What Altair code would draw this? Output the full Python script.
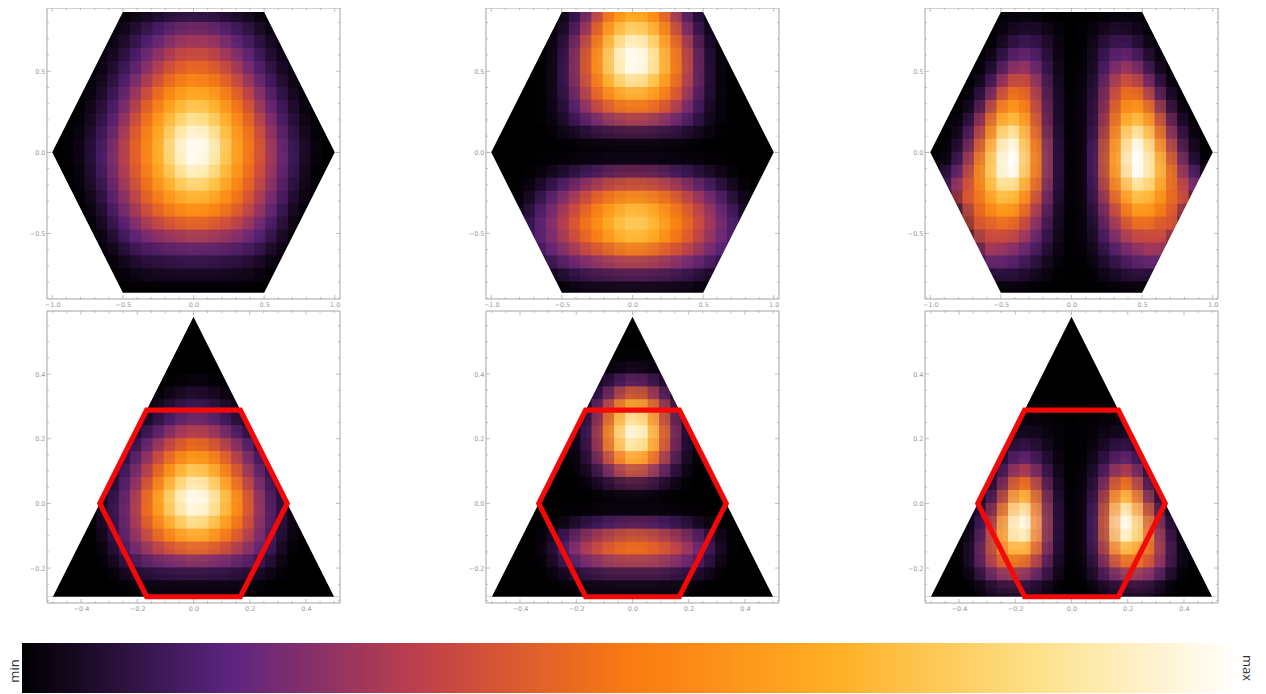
import altair as alt
import pandas as pd

# colour bar stops
stop_pos = [0, 17, 33, 50, 67, 84, 100]
stop_col = ["#000000", "#5b2480", "#c0404a", "#fb7a10", "#ffb024", "#fde28c", "#ffffff"]

hex_ys = [round(k * 0.08, 2) for k in range(11, -12, -1)]
tri_ys = [round(k * 0.04, 2) for k in range(14, -8, -1)]

# half-rows, x = 0 outwards; missing entries are 0 (black)
hex_a = [
[3,3,3,2,1,1],
[13,12,11,9,7,5,2,1],
[24,23,21,17,13,9,5,2,1],
[31,30,27,22,18,13,8,4,1],
[39,38,34,29,23,17,11,6,3,1],
[48,46,42,36,28,21,14,8,4,1],
[58,55,51,43,35,26,18,11,6,2],
[69,66,60,51,42,32,22,14,8,3,1],
[79,75,68,58,48,37,26,17,10,5,1],
[90,85,76,65,53,42,31,20,12,6,2],
[98,94,84,69,57,46,34,23,14,8,3,1],
[100,97,87,71,58,47,36,25,16,9,4,1],
[99,94,84,69,57,46,35,25,16,9,3,1],
[90,86,76,65,54,43,33,23,14,8,2],
[78,75,68,59,49,40,30,21,12,6,2],
[66,64,59,52,44,35,26,18,10,4,1],
[53,52,48,43,37,30,22,15,7,2],
[40,39,36,33,29,23,17,11,5,1],
[26,25,24,22,20,17,13,7,3],
[15,14,14,13,12,10,7,3,1],
[8,8,7,7,6,5,3,1],
[3,3,3,3,2,2,1],
[0],
]
hex_b = [
[58,56,50,36,22,11,4,1],
[70,66,56,42,26,13,5,1],
[84,79,68,52,34,20,8,2],
[97,92,78,58,42,26,11,3,1],
[100,97,83,62,46,28,13,4,1],
[99,93,80,60,45,28,13,4,1],
[82,77,68,54,41,26,13,4,1],
[62,60,55,46,35,22,11,4,1],
[46,44,41,34,26,17,9,3,1],
[25,24,22,19,15,11,6,2,1],
[7,7,6,6,5,3,2,1],
[0],
[4,4,4,3,3,2,2,1,1],
[25,24,23,20,16,13,9,6,3,1],
[43,42,40,36,31,25,19,14,8,4,1],
[62,60,56,49,42,35,27,21,14,7,2],
[74,72,66,57,49,41,33,25,18,11,4,1],
[78,75,68,59,51,43,34,26,19,13,6,2],
[68,66,60,52,45,38,30,23,18,12,6,2],
[45,44,41,37,33,28,23,18,14,8,3],
[25,25,24,22,19,17,14,10,6,2],
[10,10,9,9,8,6,4,2,1],
[1,1,1,1,1,1],
]
hex_c = [
[0],
[0,0,1,2,3,3,2,1],
[0,1,3,6,7,6,3,1],
[0,1,5,10,13,12,7,2],
[0,1,6,14,20,20,13,5,1],
[0,2,7,18,28,30,22,10,3],
[0,2,9,24,37,42,34,18,6,1],
[0,3,10,27,43,53,47,30,13,3],
[0,3,11,30,50,63,62,45,22,6,1],
[0,3,12,34,58,74,75,58,33,13,3],
[0,3,14,40,64,90,93,68,42,20,6,1],
[0,3,17,45,68,97,100,80,52,27,10,2],
[0,3,17,46,70,100,100,84,60,36,16,4],
[0,3,17,44,66,95,100,82,62,42,22,15],
[0,3,15,38,58,76,84,74,58,42,33,18],
[0,3,13,30,48,64,70,64,52,42,35,1],
[0,2,10,24,38,52,58,54,46,38,12],
[0,2,8,20,30,40,44,42,37,40,3],
[0,2,6,15,23,30,33,33,36,12],
[0,1,4,10,15,20,22,27,22,3],
[0,1,2,6,9,12,15,15,14],
[0,0,1,2,4,5,5,4,2],
[0],
]
tri_d = [
[0],[0],[0],[0],[0],
[3,2,1],
[8,7,5,2,1],
[13,12,9,6,3,1],
[24,22,18,13,8,4,1],
[36,34,29,22,15,9,4,1],
[50,47,41,33,24,15,8,3,1],
[66,62,54,43,31,21,12,5,2],
[82,77,65,52,38,26,16,8,3,1],
[95,90,77,61,46,31,19,10,4,1],
[100,97,85,69,53,36,22,12,6,1],
[96,90,79,64,50,35,22,13,6,1],
[80,76,66,55,44,32,21,12,6,1],
[60,58,52,45,36,27,19,11,4,1],
[40,38,35,31,26,21,15,8,2],
[19,18,17,16,14,12,8,4,1],
[6,6,6,6,5,4,3,1],
[1,1,1,1,1,1],
]
tri_e = [
[0],[0],[0],
[1,1],
[5,4,3,1],
[22,19,12,6,2],
[48,42,28,14,5,1],
[74,66,44,24,9,2],
[96,84,58,32,13,3,1],
[100,90,64,36,14,4,1],
[88,78,56,31,12,3,1],
[60,53,38,22,9,2],
[30,27,19,11,4,1],
[8,7,5,3,1],
[0],
[3,3,3,2,2,1,1],
[22,21,19,16,13,9,5,2],
[44,43,40,35,30,24,16,8,3],
[47,46,43,39,33,26,18,9,3],
[24,24,23,21,18,15,10,5,1],
[8,8,8,7,6,5,3,1],
[1,1,1,1,1],
]
tri_f = [
[0],[0],[0],[0],[0],[0],[0],
[0,0,1,1,1,1],
[0,1,1,2,2,2,1],
[0,1,2,4,5,5,2,1],
[0,1,3,7,11,11,6,1],
[0,1,5,12,20,20,11,3],
[0,2,8,20,34,35,19,6,1],
[0,2,11,30,52,54,30,11,3],
[0,3,14,40,72,78,45,20,6,1],
[0,3,16,45,88,98,64,32,11,2],
[0,3,17,48,96,100,78,40,17,4],
[0,3,16,44,84,94,72,44,21,6],
[0,3,14,35,60,66,58,42,23,8,1],
[0,2,10,24,38,44,42,34,20,6,1],
[0,1,6,13,19,22,22,18,9,2],
[0,0,1,3,4,5,5,4,1],
]

# region outlines
hex_top_x = [-1.04, -1.0, -0.5, 0.5, 1.0, 1.04]
hex_top_y = [0, 0, 0.866, 0.866, 0, 0]
hex_bot_y = [0, 0, -0.866, -0.866, 0, 0]
tri_top_x = [-0.53, -0.5, 0, 0.5, 0.53]
tri_top_y = [-0.2887, -0.2887, 0.5774, -0.2887, -0.2887]
tri_bot_x = [-0.53, 0.53]
tri_bot_y = [-0.2887, -0.2887]
red_x = [-0.25, -0.1667, 0.1667, 0.3333, 0.1667, -0.1667, -0.3333, -0.25]
red_y = [0.1443, 0.2887, 0.2887, 0, -0.2887, -0.2887, 0, 0.1443]

# axes
hex_major = [-1.0, -0.5, 0.0, 0.5, 1.0]
hex_minor = [-0.9,-0.8,-0.7,-0.6,-0.4,-0.3,-0.2,-0.1,0.1,0.2,0.3,0.4,0.6,0.7,0.8,0.9]
hey_major = [-0.5, 0.0, 0.5]
hey_minor = [-0.9,-0.8,-0.7,-0.6,-0.4,-0.3,-0.2,-0.1,0.1,0.2,0.3,0.4,0.6,0.7,0.8]
tri_major = [-0.4, -0.2, 0.0, 0.2, 0.4]
tri_minor = [-0.5,-0.45,-0.35,-0.3,-0.25,-0.15,-0.1,-0.05,0.05,0.1,0.15,0.25,0.3,0.35,0.45,0.5]
try_major = [-0.2, 0.0, 0.2, 0.4]
try_minor = [-0.3,-0.25,-0.15,-0.1,-0.05,0.05,0.1,0.15,0.25,0.3,0.35,0.45,0.5,0.55]

W = 293
GREY = "#a3a3a3"
FONT = "DejaVu Sans"
color_scale = alt.Scale(domain=stop_pos, range=stop_col, interpolate="rgb", clamp=True)

# softened copies of every cell: twice as large, see-through, nudged against paint order
soft_opacity = [0.5, 0.4]
soft_dx = [-0.25 + 0.156, 0.25 + 0.109]
soft_dy = [-0.25 - 0.28, 0.25 - 0.205]


def cells(rows, ys, step):
    out = []
    dy = abs(ys[0] - ys[1]) / 2
    for y, row in zip(ys, rows):
        row = list(row) + [0] * (13 - len(row))
        for i in range(-12, 13):
            x = i * step
            rec = {"x": x - step / 2, "x2": x + step / 2, "y": y - dy, "y2": y + dy, "v": row[abs(i)]}
            for n in range(len(soft_opacity)):
                cx, cy = x + soft_dx[n] * step, y + soft_dy[n] * 2 * dy
                rec[f"sx{n}"] = cx - step
                rec[f"ex{n}"] = cx + step
                rec[f"sy{n}"] = cy - 2 * dy
                rec[f"ey{n}"] = cy + 2 * dy
            out.append(rec)
    return pd.DataFrame(out)


def panel(rows, ys, step, xdom, ydom, h, xmaj, xmin, ymaj, ymin, masks, red):
    xs = alt.Scale(domain=xdom, nice=False, zero=False)
    ys_ = alt.Scale(domain=ydom, nice=False, zero=False)
    axx = alt.Axis(values=xmaj, format=".1f", title=None, ticks=False, grid=False, domain=False,
                   labelFontSize=6.5, labelColor="#9a9a9a", labelFont=FONT, labelPadding=2)
    axy = alt.Axis(values=ymaj, format=".1f", title=None, ticks=False, grid=False, domain=False,
                   labelFontSize=6.5, labelColor="#9a9a9a", labelFont=FONT, labelPadding=2)
    X = lambda f: alt.X(f, scale=xs, axis=axx)
    Y = lambda f: alt.Y(f, scale=ys_, axis=axy)
    data = cells(rows, ys, step)
    layers = [
        alt.Chart(data).mark_rect(clip=True, strokeWidth=1).encode(
            x=X("x:Q"), x2="x2:Q", y=Y("y:Q"), y2="y2:Q",
            fill=alt.Fill("v:Q", scale=color_scale, legend=None),
            stroke=alt.Stroke("v:Q", scale=color_scale, legend=None),
        )
    ]
    for n, a in enumerate(soft_opacity):
        layers.append(alt.Chart(data).mark_rect(clip=True, opacity=a).encode(
            x=X(f"sx{n}:Q"), x2=f"ex{n}:Q", y=Y(f"sy{n}:Q"), y2=f"ey{n}:Q",
            fill=alt.Fill("v:Q", scale=color_scale, legend=None),
        ))
    for mx, my, edge in masks:
        d = pd.DataFrame({"x": mx, "y": my, "e": [edge] * len(mx)})
        layers.append(alt.Chart(d).mark_area(color="white", clip=True, interpolate="linear").encode(
            x=X("x:Q"), y=Y("y:Q"), y2="e:Q",
        ))
    for vals, ln in ((xmaj, 4), (xmin, 2)):
        d = pd.DataFrame({"t": vals})
        for a, b in ((0, ln), (h, h - ln)):
            layers.append(alt.Chart(d).mark_rule(color=GREY, strokeWidth=0.7).encode(
                x=X("t:Q"), y=alt.value(a), y2=alt.value(b)))
    for vals, ln in ((ymaj, 4), (ymin, 2)):
        d = pd.DataFrame({"t": vals})
        for a, b in ((0, ln), (W, W - ln)):
            layers.append(alt.Chart(d).mark_rule(color=GREY, strokeWidth=0.7).encode(
                y=Y("t:Q"), x=alt.value(a), x2=alt.value(b)))
    layers.append(alt.Chart(pd.DataFrame({"a": [0]})).mark_rect(
        fillOpacity=0, stroke=GREY, strokeWidth=1).encode(
        x=alt.value(0), x2=alt.value(W), y=alt.value(0), y2=alt.value(h)))
    if red:
        d = pd.DataFrame({"x": red_x, "y": red_y, "o": list(range(len(red_x)))})
        layers.append(alt.Chart(d).mark_line(color="#f40808", strokeWidth=5.2, strokeJoin="miter",
                                             strokeCap="butt", strokeMiterLimit=10).encode(
            x=X("x:Q"), y=Y("y:Q"), order="o:Q",
        ))
    return alt.layer(*layers).properties(width=W, height=h)


HX, HY = [-1.037, 1.037], [-0.904, 0.890]
TX, TY = [-0.521, 0.521], [-0.308, 0.595]
hex_masks = [(hex_top_x, hex_top_y, HY[1]), (hex_top_x, hex_bot_y, HY[0])]
tri_masks = [(tri_top_x, tri_top_y, TY[1]), (tri_bot_x, tri_bot_y, TY[0])]

panels = [panel(r, hex_ys, 0.08, HX, HY, 291, hex_major, hex_minor, hey_major, hey_minor, hex_masks, False)
          for r in (hex_a, hex_b, hex_c)]
panels += [panel(r, tri_ys, 0.04, TX, TY, 292, tri_major, tri_minor, try_major, try_minor, tri_masks, True)
           for r in (tri_d, tri_e, tri_f)]

one = pd.DataFrame({"a": [0]})
gradient = alt.Gradient(gradient="linear", x1=0, x2=1, y1=0, y2=0,
                        stops=[alt.GradientStop(offset=p / 100, color=c) for p, c in zip(stop_pos, stop_col)])
bar = alt.Chart(one).mark_rect(color=gradient).encode(
    x=alt.value(-25), x2=alt.value(1190), y=alt.value(28), y2=alt.value(78))
# invisible guides that hold the drawing's outer edges, so the rotated words keep their room
edge_l = alt.Chart(one).mark_rule(opacity=0).encode(
    x=alt.value(-39), y=alt.value(28), y2=alt.value(78))
edge_r = alt.Chart(one).mark_rule(opacity=0).encode(
    x=alt.value(1209), y=alt.value(28), y2=alt.value(78))
tmin = alt.Chart(pd.DataFrame({"t": ["min"]})).mark_text(
    angle=270, fontSize=13, font="Open Sans", color="#333333", align="center", baseline="middle").encode(
    text="t:N", x=alt.value(-32), y=alt.value(56))
tmax = alt.Chart(pd.DataFrame({"t": ["max"]})).mark_text(
    angle=90, fontSize=13, font="Open Sans", color="#333333", align="center", baseline="middle").encode(
    text="t:N", x=alt.value(1200), y=alt.value(53))
barchart = alt.layer(edge_l, edge_r, bar, tmin, tmax).properties(width=293, height=78)

chart = alt.concat(*panels, barchart, columns=3, spacing={"column": 146, "row": 12},
                   bounds="flush").properties(
    padding={"left": 0, "top": -1, "right": 0, "bottom": 0}, background="white"
).configure_view(stroke=None)

chart.save("out.html", embed_options={"renderer": "svg", "actions": False})
